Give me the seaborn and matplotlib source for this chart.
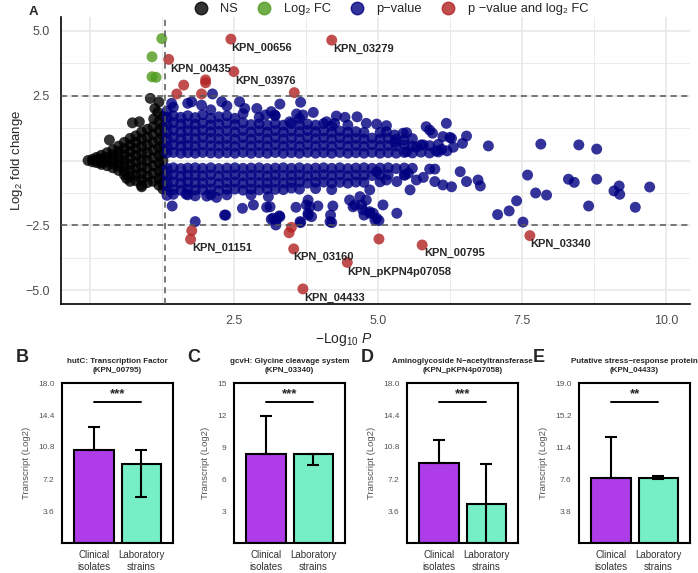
import pandas as pd
import seaborn as sns
import matplotlib.pyplot as plt
from matplotlib.lines import Line2D

# ---------------- panel A: volcano data (x = -log10 P, y = log2 FC) ----------------
# NS points, written as columns: (x, [y values])
ns_cols = [
    (-0.03, [0.0]),
    (0.05, [0.05, -0.05]),
    (0.12, [0.12, 0.02, -0.08]),
    (0.2, [0.2, 0.06, -0.08, -0.15]),
    (0.3, [0.3, 0.12, -0.05, -0.2]),
    (0.4, [0.42, 0.22, 0.05, -0.12, -0.28]),
    (0.5, [0.55, 0.35, 0.15, -0.05, -0.22, -0.38]),
    (0.6, [0.7, 0.45, 0.22, 0.0, -0.2, -0.42, -0.55]),
    (0.7, [0.85, 0.6, 0.35, 0.1, -0.15, -0.38, -0.6, -0.8]),
    (0.8, [0.95, 0.7, 0.45, 0.2, -0.05, -0.3, -0.55, -0.78]),
    (0.9, [1.1, 0.82, 0.55, 0.28, 0.02, -0.25, -0.5, -0.75, -0.95]),
    (1.0, [1.2, 0.9, 0.6, 0.3, 0.0, -0.3, -0.6, -0.85]),
    (1.1, [1.3, 1.0, 0.7, 0.4, 0.1, -0.2, -0.5, -0.8]),
    (1.2, [1.5, 1.15, 0.8, 0.5, 0.2, -0.1, -0.4, -0.7, -0.95]),
    (1.27, [1.7, 1.3, 0.95, 0.6, 0.3, 0.0, -0.3, -0.6, -0.9, -1.1]),
]
ns_extra = [(1.05, 2.39), (1.13, 2.0), (1.11, 1.6), (0.74, 1.45), (0.86, 1.49),
            (0.34, 0.79), (0.9, -1.01), (1.2, 2.25), (1.18, 1.85), (0.64, -0.69)]

# log2 FC only (green)
fc_pts = [(1.25, 4.69), (1.08, 3.99), (1.08, 3.22), (1.15, 3.20)]

# p-value only (blue), dense band as columns
pv_cols = [
    (1.34, [0.29, 0.56, 0.84, 1.12, 1.4, 1.66, 1.9, -0.3, -0.57, -0.85, -1.12, -1.34]),
    (1.45, [0.31, 0.6, 0.88, 1.16, 1.45, 1.72, 2.05, -0.28, -0.55, -0.83, -1.12, -1.3]),
    (1.58, [0.28, 0.56, 0.83, 1.11, 1.4, 1.66, -0.31, -0.6, -0.87, -1.14]),
    (1.7, [0.3, 0.58, 0.86, 1.15, 1.42, 1.72, 2.2, -0.29, -0.56, -0.84, -1.1, -1.32]),
    (1.83, [0.28, 0.56, 0.85, 1.13, 1.4, 1.65, -0.28, -0.57, -0.85, -1.13, -1.36]),
    (1.96, [0.31, 0.6, 0.88, 1.16, 1.44, 1.76, -0.3, -0.58, -0.86, -1.12]),
    (2.1, [0.29, 0.57, 0.85, 1.11, 1.37, 1.62, 1.95, -0.28, -0.55, -0.83, -1.1, -1.32]),
    (2.24, [0.28, 0.56, 0.83, 1.12, 1.4, 1.68, -0.31, -0.6, -0.88, -1.15]),
    (2.38, [0.3, 0.58, 0.85, 1.14, 1.43, 1.72, 2.1, -0.29, -0.57, -0.85, -1.11, -1.32]),
    (2.52, [0.28, 0.55, 0.83, 1.1, 1.38, 1.62, -0.28, -0.55, -0.83, -1.1]),
    (2.66, [0.31, 0.6, 0.88, 1.16, 1.45, 1.8, -0.3, -0.59, -0.87, -1.14]),
    (2.8, [0.28, 0.56, 0.83, 1.1, 1.38, -0.29, -0.56, -0.84, -1.1, -1.32]),
    (2.94, [0.3, 0.58, 0.86, 1.14, 1.41, 1.66, -0.28, -0.57, -0.85, -1.13]),
    (3.08, [0.28, 0.56, 0.83, 1.1, 1.36, -0.31, -0.59, -0.86, -1.1]),
    (3.22, [0.31, 0.6, 0.87, 1.15, 1.42, 1.72, -0.29, -0.56, -0.83, -1.11]),
    (3.36, [0.28, 0.56, 0.83, 1.1, 1.36, -0.28, -0.57, -0.86, -1.12]),
    (3.5, [0.3, 0.58, 0.86, 1.13, 1.42, -0.3, -0.57, -0.84, -1.06]),
    (3.64, [0.28, 0.55, 0.83, 1.11, 1.38, 1.62, -0.28, -0.56, -0.83, -1.1]),
    (3.78, [0.31, 0.6, 0.88, 1.15, 1.4, -0.31, -0.59, -0.87]),
    (3.92, [0.28, 0.56, 0.84, 1.11, 1.36, -0.29, -0.57, -0.84, -1.08]),
    (4.06, [0.3, 0.58, 0.86, 1.13, 1.42, -0.28, -0.55, -0.83]),
    (4.2, [0.28, 0.55, 0.83, 1.09, 1.33, -0.3, -0.58, -0.86, -1.12]),
    (4.34, [0.31, 0.6, 0.87, 1.13, -0.28, -0.56, -0.84]),
    (4.48, [0.28, 0.56, 0.83, 1.09, 1.36, -0.31, -0.59, -0.87]),
    (4.62, [0.3, 0.58, 0.85, 1.11, -0.29, -0.56, -0.83]),
    (4.76, [0.28, 0.55, 0.83, 1.08, -0.28, -0.57, -0.84]),
    (4.9, [0.31, 0.6, 0.86, -0.3, -0.58]),
    (5.04, [0.28, 0.56, 0.83, 1.08, -0.29, -0.56, -0.82]),
    (5.18, [0.3, 0.58, 0.85, -0.28, -0.55]),
    (5.32, [0.28, 0.55, 0.82, -0.31]),
    (5.46, [0.31, 0.6, -0.29, -0.56]),
    (5.6, [0.29, 0.56, 0.84, -0.3]),
    (5.75, [0.32, 0.6]),
    (5.9, [0.29, 0.57, -0.33]),
    (6.05, [0.33, 0.62]),
    (6.2, [0.37]),
]
pv_extra = [
    (1.42, 2.2), (1.77, 2.26), (1.94, 2.13), (2.13, 2.56), (2.29, 2.26), (2.6, 2.26),
    (2.69, 2.0), (2.9, 2.0), (3.05, 1.75), (3.3, 2.17), (3.66, 2.24), (3.59, 1.79),
    (3.7, 1.75), (3.88, 1.85), (3.15, 1.88), (3.21, 1.75), (3.47, 1.49), (4.28, 1.71),
    (4.43, 1.66), (4.64, 1.68), (4.11, 1.49), (4.25, 1.43), (4.8, 1.43), (4.98, 1.4),
    (5.15, 1.34), (5.15, 1.11), (5.29, 0.98), (5.44, 1.05), (5.5, 1.07), (5.84, 1.3),
    (5.9, 1.17), (5.95, 1.05), (6.19, 1.43), (6.13, 0.92), (6.25, 0.89), (6.28, 0.85),
    (6.54, 0.94), (6.47, 0.66), (6.92, 0.56), (6.01, 0.37), (6.11, 0.43), (6.31, 0.51),
    (5.5, 0.34), (5.67, 0.51), (5.79, 0.6), (5.3, 0.7), (5.45, 0.78), (7.83, 0.63),
    (8.49, 0.6), (8.8, 0.44),
    (1.43, -1.75), (1.67, -1.29), (1.83, -2.35), (2.03, -1.37), (2.2, -1.42),
    (2.34, -2.1), (2.36, -2.1), (2.65, -1.84), (2.84, -1.71), (3.07, -1.8), (3.1, -1.39),
    (3.18, -2.22), (3.15, -2.26), (3.29, -2.13), (3.23, -2.48), (3.58, -1.8),
    (3.76, -1.71), (3.79, -2.1), (3.96, -1.75), (3.66, -2.39), (4.18, -2.1),
    (4.2, -2.39), (4.22, -1.75), (4.57, -1.78), (4.72, -1.71), (4.76, -2.1),
    (4.86, -1.97), (4.95, -2.29), (5.02, -2.31), (4.92, -2.03), (3.13, -1.78),
    (3.3, -2.16), (3.24, -2.29), (3.65, -2.35), (3.79, -1.52), (3.82, -1.78),
    (3.79, -2.03), (3.85, -2.16), (4.17, -2.35), (4.51, -1.52), (4.6, -1.71),
    (4.74, -1.9), (4.86, -2.03), (4.98, -2.22), (4.86, -1.13), (4.8, -1.52),
    (4.69, -1.39), (5.09, -1.71), (5.33, -2.03), (5.56, -1.13), (5.33, -0.81),
    (5.15, -0.75), (5.67, -0.75), (5.79, -0.65), (5.99, -0.81), (6.13, -0.94),
    (6.28, -1.01), (6.54, -0.81), (6.74, -0.75), (6.78, -0.98), (6.43, -0.43),
    (5.99, -0.33), (5.47, -0.56), (5.53, -0.49), (4.98, -0.43), (7.6, -0.56),
    (7.74, -1.25), (7.93, -1.33), (8.31, -0.72), (8.41, -0.84), (8.8, -0.72),
    (9.19, -0.98), (9.1, -1.17), (9.2, -1.3), (9.72, -1.02), (8.66, -1.75),
    (9.47, -1.8), (7.41, -1.55), (7.28, -1.94), (7.08, -2.08), (7.52, -2.37),
]

# p-value and log2 FC (red)
both_pts = [(2.45, 4.67), (4.2, 4.63), (1.37, 3.89), (2.5, 3.42), (1.63, 2.9),
            (2.01, 3.1), (2.01, 2.99), (1.51, 2.56), (1.94, 2.56), (3.55, 2.61),
            (1.77, -2.7), (1.75, -3.03), (3.5, -2.57), (3.46, -2.78), (3.54, -3.4),
            (4.47, -3.92), (3.7, -4.94), (5.02, -3.02), (5.77, -3.25), (7.64, -2.89)]

gene_labels = ["KPN_00656", "KPN_03279", "KPN_00435", "KPN_03976", "KPN_01151",
               "KPN_03160", "KPN_pKPN4p07058", "KPN_04433", "KPN_00795", "KPN_03340"]
label_pos = [(2.45, 4.33), (4.22, 4.29), (1.39, 3.52), (2.52, 3.07), (1.77, -3.35),
             (3.54, -3.71), (4.47, -4.28), (3.72, -5.28), (5.8, -3.55), (7.65, -3.21)]

groups = ["NS", "Log\u2082 FC", "p\u2212value", "p \u2212value and log\u2082 FC"]
group_colors = ["black", "#4E9A1C", "navy", "#B22222"]

# ---------------- panels B-E: bar data ----------------
panel_titles = ["hutC: Transcription Factor\n(KPN_00795)",
                "gcvH: Glycine cleavage system\n(KPN_03340)",
                "Aminoglycoside N\u2212acetyltransferase\n(KPN_pKPN4p07058)",
                "Putative stress\u2212response protein\n(KPN_04433)"]
bar_groups = ["Clinical\nisolates", "Laboratory\nstrains"]
y_max = [18.0, 15.0, 18.0, 19.0]
clinical_mean = [10.45, 8.35, 9.0, 7.75]
clinical_hi = [13.1, 11.9, 11.6, 12.6]
lab_mean = [8.9, 8.3, 4.4, 7.7]
lab_lo = [5.2, 7.3, 0.0, 7.6]
lab_hi = [10.45, 8.35, 8.9, 8.0]
stars = ["***", "***", "***", "**"]
tick_fmt = ["{:.1f}", "{:.0f}", "{:.1f}", "{:.1f}"]


def flatten(cols):
    return [(x, y) for x, ys in cols for y in ys]


sns.set_style("white")
plt.rcParams["font.family"] = ["Liberation Sans", "DejaVu Sans"]
plt.rcParams["mathtext.fontset"] = "custom"
plt.rcParams["mathtext.rm"] = "Liberation Sans"
plt.rcParams["mathtext.it"] = "Liberation Sans:italic"

W, H = 698, 573
fig = plt.figure(figsize=(W / 100, H / 100), dpi=100)

# ---------------- volcano ----------------
rows = [(x, y, groups[0]) for x, y in flatten(ns_cols) + ns_extra]
rows += [(x, y, groups[2]) for x, y in flatten(pv_cols) + pv_extra]
rows += [(x, y, groups[1]) for x, y in fc_pts]
rows += [(x, y, groups[3]) for x, y in both_pts]
df = pd.DataFrame(rows, columns=["logp", "lfc", "group"])

ax = fig.add_axes([61 / W, 1 - 304 / H, 629 / W, 287 / H])
for x in [0, 2.5, 5, 7.5, 10]:
    ax.axvline(x, color="#EBEBEB", lw=1.3, zorder=0)
for x in [1.25, 3.75, 6.25, 8.75]:
    ax.axvline(x, color="#EBEBEB", lw=0.7, zorder=0)
for y in [-5, -2.5, 0, 2.5, 5]:
    ax.axhline(y, color="#EBEBEB", lw=1.3, zorder=0)
for y in [-3.75, -1.25, 1.25, 3.75]:
    ax.axhline(y, color="#EBEBEB", lw=0.7, zorder=0)

sns.scatterplot(data=df, x="logp", y="lfc", hue="group", hue_order=groups,
                palette=dict(zip(groups, group_colors)), s=62, alpha=0.8,
                linewidth=0, legend=False, ax=ax, zorder=2)

ax.axvline(1.30, color="#555555", lw=1.1, ls=(0, (4, 3)), zorder=3)
for y in [-2.5, 2.5]:
    ax.axhline(y, color="#555555", lw=1.1, ls=(0, (4, 3)), zorder=3)

for name, (lx, ly) in zip(gene_labels, label_pos):
    ax.text(lx, ly, name, fontsize=8, fontweight="bold", ha="left", va="center", zorder=4)

ax.set_xlim(-0.5, 10.42)
ax.set_ylim(-5.52, 5.52)
ax.set_xticks([0, 2.5, 5, 7.5, 10])
ax.set_xticklabels(["", "2.5", "5.0", "7.5", "10.0"])
ax.set_yticks([-5, -2.5, 0, 2.5, 5])
ax.set_yticklabels(["\u22125.0", "\u22122.5", "", "2.5", "5.0"])
ax.tick_params(axis="both", length=4, width=1.1, color="black", labelsize=9,
               labelcolor="#4D4D4D", direction="out", pad=4)
for side in ["top", "right"]:
    ax.spines[side].set_visible(False)
for side in ["left", "bottom"]:
    ax.spines[side].set_color("black")
    ax.spines[side].set_linewidth(1.2)
ax.set_xlabel(r"$-$Log$_{10}$ $\it{P}$", fontsize=10)
ax.set_ylabel(r"Log$_2$ fold change", fontsize=9.5)
ax.xaxis.set_label_coords(0.45, -0.093)
ax.yaxis.set_label_coords(-0.058, 0.5)

handles = [Line2D([], [], marker="o", ls="", color=c, alpha=0.8, markersize=9)
           for c in group_colors]
fig.legend(handles, groups, loc="center", bbox_to_anchor=(388 / W, 1 - 9 / H),
           ncol=4, frameon=False, fontsize=9.3, handletextpad=0.5,
           columnspacing=1.05, borderaxespad=0)
fig.text(33 / W, 1 - 12 / H, "A", fontsize=9.5, fontweight="bold", ha="center", va="center")

# ---------------- bar panels ----------------
lefts = [62, 234, 407, 579]
letters = ["B", "C", "D", "E"]
for i in range(4):
    bx = fig.add_axes([lefts[i] / W, 1 - 543 / H, 111 / W, 160 / H])
    sns.barplot(x=bar_groups, y=[clinical_mean[i], lab_mean[i]], hue=bar_groups,
                palette=["#AE3CE8", "#76EEC6"], saturation=1, legend=False, width=0.84,
                edgecolor="black", linewidth=1.5, errorbar=None, ax=bx, zorder=2)
    bx.errorbar([0], [clinical_mean[i]], yerr=[[0], [clinical_hi[i] - clinical_mean[i]]],
                fmt="none", ecolor="black", elinewidth=1.5, capsize=4.5, capthick=1.5, zorder=3)
    bx.errorbar([1], [lab_mean[i]], yerr=[[lab_mean[i] - lab_lo[i]], [lab_hi[i] - lab_mean[i]]],
                fmt="none", ecolor="black", elinewidth=1.5, capsize=4.5, capthick=1.5, zorder=3)
    sig = 0.883 * y_max[i]
    bx.plot([0, 1], [sig, sig], color="black", lw=1.4)
    bx.text(0.5, sig + 0.012 * y_max[i], stars[i], ha="center", va="bottom",
            fontsize=9.5, fontweight="bold")
    bx.set_xlim(-0.68, 1.67)
    bx.set_ylim(0, y_max[i])
    ticks = [y_max[i] * k / 5 for k in range(1, 6)]
    bx.set_yticks(ticks)
    bx.set_yticklabels([tick_fmt[i].format(t) for t in ticks])
    bx.tick_params(axis="y", length=3.5, width=1.1, labelsize=6, labelcolor="#555555", pad=2)
    bx.tick_params(axis="x", length=0, labelsize=7, labelcolor="#333333", pad=5)
    for s in bx.spines.values():
        s.set_color("black")
        s.set_linewidth(1.5)
    bx.set_xlabel("")
    bx.set_ylabel("Transcript (Log2)", fontsize=6.8, color="#555555", labelpad=5)
    bx.text(0.5, 1.055, panel_titles[i], transform=bx.transAxes, ha="center", va="bottom",
            fontsize=5.8, fontweight="bold", linespacing=1.45)
    fig.text((lefts[i] - 40) / W, 1 - 357 / H, letters[i], fontsize=13, fontweight="bold",
             ha="center", va="center")

fig.savefig("out.png", dpi=100)
